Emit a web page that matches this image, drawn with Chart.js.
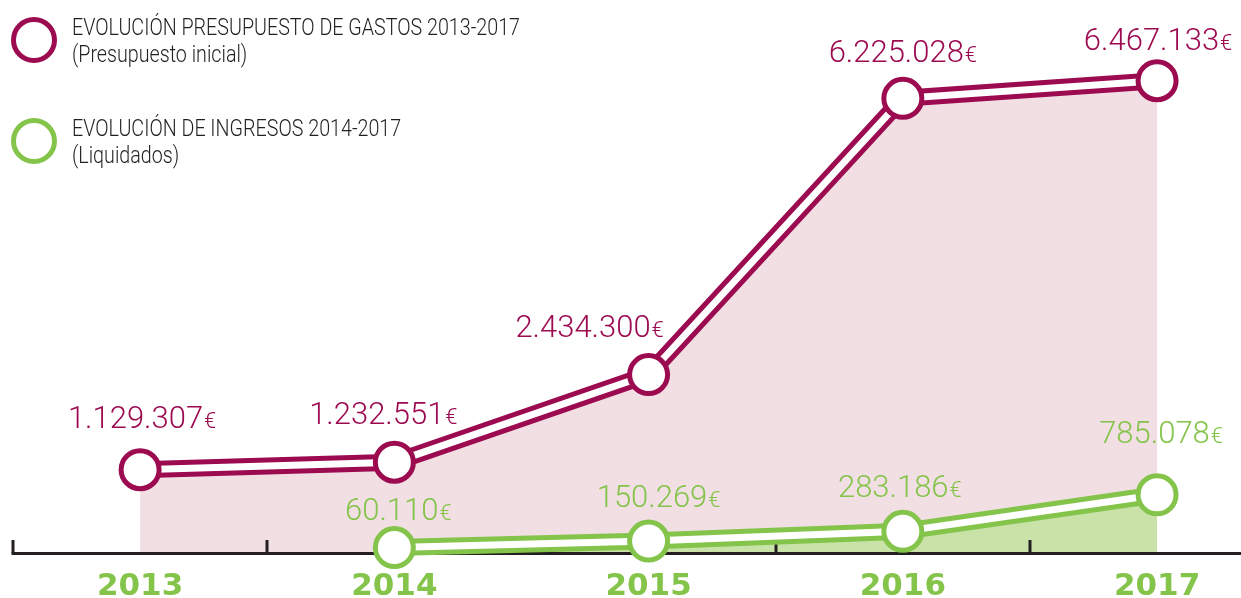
<!DOCTYPE html>
<html>
<head>
<meta charset="utf-8">
<script src="https://cdn.jsdelivr.net/npm/chart.js@4.4.1/dist/chart.umd.min.js"></script>
<style>
  html, body { margin: 0; padding: 0; background: #fff; overflow: hidden; }
  #wrap { position: relative; width: 1241px; height: 598px; }
  #myChart { position: absolute; left: 0; top: 0; }
  .ring { position: absolute; left: 11px; width: 46px; height: 46px; box-sizing: border-box; border: 5px solid; border-radius: 50%; }
  .txt { position: absolute; left: 72px; white-space: nowrap; transform-origin: 0 0;
         font-family: Roboto, sans-serif; font-weight: 300; font-size: 24px; line-height: 27px; color: #231f20; }
</style>
</head>
<body>
<div id="wrap">
  <canvas id="myChart" width="1241" height="598"></canvas>
  <div class="ring" style="top:17px; border-color:#9c0a50;"></div>
  <div class="txt" style="top:14px;"><span id="firstLine">EVOLUCIÓN PRESUPUESTO DE GASTOS 2013-2017</span><br>(Presupuesto inicial)</div>
  <div class="ring" style="top:118px; border-color:#84c44a;"></div>
  <div class="txt" style="top:115px;">EVOLUCIÓN DE INGRESOS 2014-2017<br>(Liquidados)</div>
</div>
<script>
// datos
const years = ['2013', '2014', '2015', '2016', '2017'];
const gastos = [1129307, 1232551, 2434300, 6225028, 6467133];
const ingresos = [null, 60110, 150269, 283186, 785078];

const purple = '#9c0a50';
const green = '#84c44a';
const pinkFill = '#f2dfe4';
const greenFill = '#c8e2a8';

// condensed legend text
const first = document.getElementById('firstLine');
const k = 448 / first.getBoundingClientRect().width;
document.querySelectorAll('.txt').forEach(el => el.style.transform = 'scaleX(' + k + ')');

const pts = arr => arr.map((v, i) => ({x: i, y: v}));
const fmt = v => String(v).replace(/\B(?=(\d{3})+(?!\d))/g, '.');

// etiquetas de valor sobre los puntos
const valueLabels = {
    id: 'valueLabels',
    afterDatasetsDraw(chart, args, opts) {
        const ctx = chart.ctx;
        opts.series.forEach(s => {
            const meta = chart.getDatasetMeta(s.dataset);
            meta.data.forEach((pt, i) => {
                const v = s.values[i];
                if (v == null) return;
                const num = fmt(v);
                ctx.save();
                ctx.fillStyle = s.color;
                ctx.textAlign = 'left';
                ctx.textBaseline = 'alphabetic';
                ctx.font = '300 31px Roboto';
                const w1 = ctx.measureText(num).width;
                ctx.font = '300 22px Roboto';
                const w2 = ctx.measureText('€').width;
                const cx = pt.x + s.dx[i];
                const cy = pt.y - s.dy[i];
                const x0 = cx - (w1 + w2 + 1) / 2;
                const base = cy + 11;
                ctx.font = '300 31px Roboto';
                ctx.fillText(num, x0, base);
                ctx.font = '300 22px Roboto';
                ctx.fillText('€', x0 + w1 + 1, base);
                ctx.restore();
            });
        });
    }
};

// linea base del eje y marcas entre años (hacia arriba)
const axisMarks = {
    id: 'axisMarks',
    beforeDatasetDraw(chart, args) {
        if (args.index !== 1) return;
        const ctx = chart.ctx;
        const xs = chart.scales.x;
        const bottom = chart.chartArea.bottom;
        const x0 = Math.round(xs.getPixelForValue(-0.5));
        ctx.save();
        ctx.strokeStyle = '#231f20';
        ctx.lineWidth = 3;
        ctx.beginPath();
        ctx.moveTo(x0 - 1.5, bottom + 1.5);
        ctx.lineTo(chart.width, bottom + 1.5);
        ctx.stroke();
        for (let i = -1; i < years.length - 1; i++) {
            const x = Math.round(xs.getPixelForValue(i + 0.5));
            ctx.beginPath();
            ctx.moveTo(x, bottom - 12);
            ctx.lineTo(x, bottom + 1);
            ctx.stroke();
        }
        ctx.restore();
    }
};

function graficar(ctx) {
    const inner = color => ({
        borderColor: '#fff', borderWidth: 7, tension: 0, fill: false, clip: false,
        pointRadius: 19, pointHoverRadius: 19, pointBorderWidth: 5, pointHoverBorderWidth: 5,
        pointBackgroundColor: '#fff', pointBorderColor: color
    });
    const outer = (color, bg) => ({
        borderColor: color, borderWidth: 17, tension: 0, clip: false,
        fill: 'origin', backgroundColor: bg, pointRadius: 0, pointHoverRadius: 0
    });

    new Chart(ctx, {
        type: 'line',
        data: {
            datasets: [
                Object.assign({label: 'Ingresos', data: pts(ingresos)}, inner(green)),
                Object.assign({label: 'Ingresos', data: pts(ingresos)}, outer(green, greenFill)),
                Object.assign({label: 'Gastos', data: pts(gastos)}, inner(purple)),
                Object.assign({label: 'Gastos', data: pts(gastos)}, outer(purple, pinkFill))
            ]
        },
        options: {
            responsive: false,
            animation: false,
            layout: {padding: {left: 0, right: 0, top: 0, bottom: 0}},
            plugins: {
                legend: {display: false},
                tooltip: {enabled: false},
                valueLabels: {
                    series: [
                        {dataset: 2, values: gastos, color: purple,
                         dx: [2, -11, -59, 0, 1], dy: [53, 49, 49, 47, 42]},
                        {dataset: 0, values: ingresos, color: green,
                         dx: [0, 4, 10, -3, 4], dy: [0, 39, 45, 45, 63]}
                    ]
                }
            },
            scales: {
                x: {
                    type: 'linear',
                    min: -0.4567,
                    max: 4.2357,
                    afterBuildTicks: s => { s.ticks = years.map((_, i) => ({value: i})); },
                    afterFit: s => { s.height = 46; },
                    grid: {display: false},
                    border: {display: false},
                    ticks: {
                        padding: 8,
                        color: green,
                        autoSkip: false,
                        maxRotation: 0,
                        font: {family: 'DejaVu Sans', weight: 'bold', size: 31},
                        callback: v => years[v] ?? ''
                    }
                },
                y: {
                    display: false,
                    min: 0,
                    max: 7245000
                }
            }
        },
        plugins: [axisMarks, valueLabels]
    });
}

graficar(document.getElementById('myChart').getContext('2d'));
</script>
</body>
</html>
